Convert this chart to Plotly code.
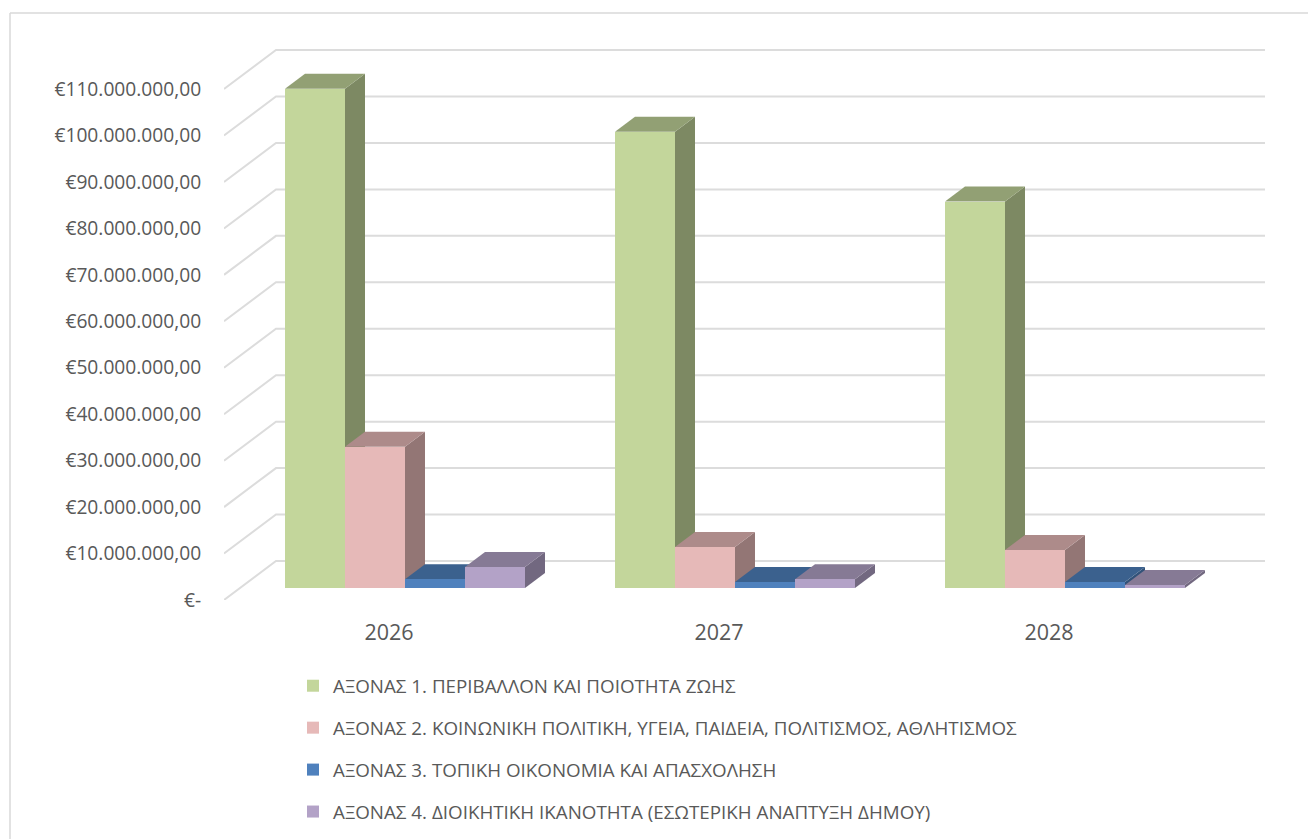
import plotly.graph_objects as go

years = ["2026", "2027", "2028"]
series_names = [
    "ΑΞΟΝΑΣ 1. ΠΕΡΙΒΑΛΛΟΝ ΚΑΙ ΠΟΙΟΤΗΤΑ ΖΩΗΣ",
    "ΑΞΟΝΑΣ 2. ΚΟΙΝΩΝΙΚΗ ΠΟΛΙΤΙΚΗ, ΥΓΕΙΑ, ΠΑΙΔΕΙΑ, ΠΟΛΙΤΙΣΜΟΣ, ΑΘΛΗΤΙΣΜΟΣ",
    "ΑΞΟΝΑΣ 3. ΤΟΠΙΚΗ ΟΙΚΟΝΟΜΙΑ ΚΑΙ ΑΠΑΣΧΟΛΗΣΗ",
    "ΑΞΟΝΑΣ 4. ΔΙΟΙΚΗΤΙΚΗ ΙΚΑΝΟΤΗΤΑ (ΕΣΩΤΕΡΙΚΗ ΑΝΑΠΤΥΞΗ ΔΗΜΟΥ)",
]
axis1_values = [107500000, 98200000, 83200000]
axis2_values = [30400000, 8800000, 8200000]
axis3_values = [1900000, 1300000, 1300000]
axis4_values = [4500000, 1900000, 650000]
all_values = [axis1_values, axis2_values, axis3_values, axis4_values]

tick_values = [i * 10000000 for i in range(12)]
tick_labels = ["€-", "€10.000.000,00", "€20.000.000,00", "€30.000.000,00",
               "€40.000.000,00", "€50.000.000,00", "€60.000.000,00", "€70.000.000,00",
               "€80.000.000,00", "€90.000.000,00", "€100.000.000,00", "€110.000.000,00"]

front_colors = ["#C3D69B", "#E6B9B8", "#4F81BD", "#B3A2C7"]
top_colors = ["#92A074", "#AD8B8A", "#3B618E", "#867A95"]
side_colors = ["#7D8963", "#937675", "#325279", "#726880"]

W, H = 1308, 839
PLOT_L, PLOT_R, PLOT_T, PLOT_B = 224, 1265, 20, 600
PX_PER_CAT = 330.0
PX_PER_VAL = 4.645 / 1e6

x_range = [-0.5, -0.5 + (PLOT_R - PLOT_L) / PX_PER_CAT]
y_range = [0, (PLOT_B - PLOT_T) / PX_PER_VAL]
x_domain = [PLOT_L / W, PLOT_R / W]
y_domain = [1 - PLOT_B / H, 1 - PLOT_T / H]

DX = 52 / PX_PER_CAT          # wall depth along x, in category units
DY = 39 / PX_PER_VAL          # wall depth along y, in value units
BAR_W = 60 / PX_PER_CAT
D_FRONT, D_BACK = 12 / 39, 27 / 39


def proj(x, v, d):
    return x + d * DX, v + d * DY


fig = go.Figure()

# Walls: gridlines running from the front edge to the back wall and across it
for v in tick_values:
    x0, y0 = proj(x_range[0], v, 0)
    x1, y1 = proj(x_range[0], v, 1)
    fig.add_trace(go.Scatter(x=[x0, x1, x_range[1]], y=[y0, y1, y1], mode="lines",
                             line=dict(color="#DCDCDC", width=2), showlegend=False,
                             hoverinfo="skip"))


def face(pts, color):
    fig.add_trace(go.Scatter(x=[p[0] for p in pts] + [pts[0][0]],
                             y=[p[1] for p in pts] + [pts[0][1]],
                             mode="lines", line=dict(width=0, color=color),
                             fill="toself", fillcolor=color, showlegend=False,
                             hoverinfo="skip"))


# Side and top faces, painted left to right
for c in range(len(years)):
    for k, vals in enumerate(all_values):
        xl = c + (k - 2) * BAR_W
        xr = xl + BAR_W
        v = vals[c]
        side = [proj(xr, 0, D_FRONT), proj(xr, 0, D_BACK), proj(xr, v, D_BACK), proj(xr, v, D_FRONT)]
        top = [proj(xl, v, D_FRONT), proj(xr, v, D_FRONT), proj(xr, v, D_BACK), proj(xl, v, D_BACK)]
        face(side, side_colors[k])
        face(top, top_colors[k])

# Front faces, on an overlaying subplot so they cover the neighbours' sides
for k, vals in enumerate(all_values):
    fig.add_trace(go.Bar(
        x=[proj(c + (k - 1.5) * BAR_W, 0, D_FRONT)[0] for c in range(len(years))],
        y=vals, base=D_FRONT * DY, width=BAR_W,
        name=series_names[k], legendgroup=series_names[k],
        marker=dict(color=front_colors[k], line=dict(width=0)),
        xaxis="x2", yaxis="y2"))

frame = dict(type="line", xref="paper", yref="paper", layer="below",
             line=dict(color="#D9D9D9", width=1.5))

fig.update_layout(
    width=W, height=H, autosize=False,
    margin=dict(l=0, r=0, t=0, b=0, pad=0),
    paper_bgcolor="white", plot_bgcolor="rgba(0,0,0,0)",
    barmode="overlay", bargap=0,
    xaxis=dict(domain=x_domain, range=x_range, automargin=False, tickmode="array",
               tickvals=[0, 1, 2], ticktext=years,
               showgrid=False, zeroline=False, showline=False, ticks="outside",
               ticklen=13, tickcolor="rgba(0,0,0,0)",
               tickfont=dict(family="Open Sans", size=21.5, color="#595959")),
    yaxis=dict(domain=y_domain, range=y_range, automargin=False, tickmode="array",
               tickvals=tick_values, ticktext=tick_labels,
               showgrid=False, zeroline=False, showline=False, ticks="outside",
               ticklen=18, tickcolor="rgba(0,0,0,0)",
               tickfont=dict(family="Open Sans", size=19.2, color="#595959")),
    xaxis2=dict(domain=x_domain, range=x_range, overlaying="x", visible=False, automargin=False),
    yaxis2=dict(domain=y_domain, range=y_range, overlaying="y", visible=False, automargin=False),
    legend=dict(x=293 / W, xanchor="left",
                y=1 - 667 / H, yanchor="top",
                tracegroupgap=14.5, borderwidth=0, bgcolor="rgba(0,0,0,0)",
                font=dict(family="Open Sans", size=18.8, color="#595959")),
    shapes=[
        dict(frame, x0=10 / W, x1=1, y0=1 - 13 / H, y1=1 - 13 / H),
        dict(frame, x0=10 / W, x1=10 / W, y0=0, y1=1 - 13 / H),
    ],
)

fig.write_html("out.html", config={"displayModeBar": False},
               post_script="document.body.style.margin='0';document.body.style.overflow='hidden';")
